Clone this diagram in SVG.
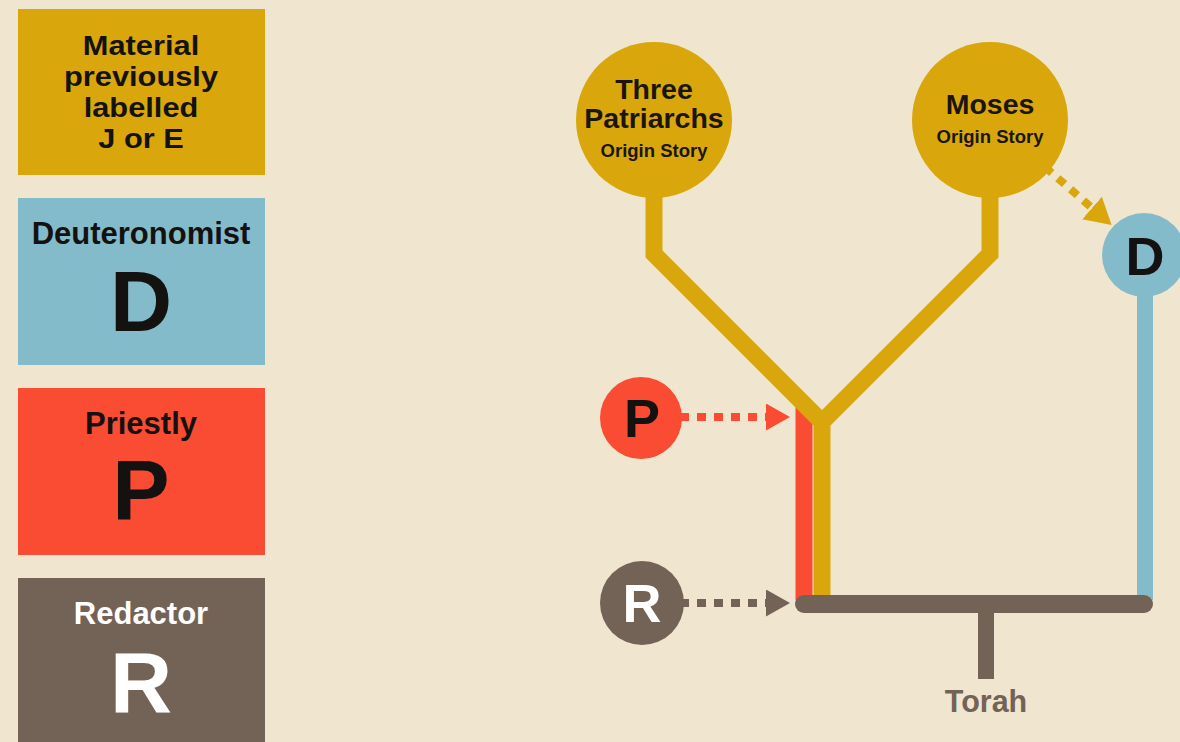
<svg xmlns="http://www.w3.org/2000/svg" width="1180" height="742" viewBox="0 0 1180 742">
  <defs>
    <style>
      text { font-family: "Liberation Sans", Arial, Helvetica, sans-serif; font-weight: bold; text-anchor: middle; }
      .lbl { font-size: 31px; fill: #141210; }
      .lbl4 { font-size: 27.5px; fill: #141210; }
      .big { font-size: 86px; fill: #141210; }
      .wht { fill: #ffffff; }
      .ttl { font-size: 28.5px; fill: #1a1510; }
      .sub { font-size: 18.5px; fill: #1a1510; }
      .ltr { font-size: 54px; }
      .gold { fill: #D9A70B; }
      .blue { fill: #84BBCB; }
      .red { fill: #FA4C33; }
      .brown { fill: #736357; }
      .dots { fill: none; stroke-width: 8; stroke-dasharray: 9 8; }
    </style>
    <marker id="ahRed" markerUnits="userSpaceOnUse" markerWidth="26" markerHeight="30" refX="0" refY="13.5" orient="auto">
      <path d="M0,0 L24,13.5 L0,27 z" fill="#FA4C33"/>
    </marker>
    <marker id="ahBrown" markerUnits="userSpaceOnUse" markerWidth="26" markerHeight="30" refX="0" refY="13.5" orient="auto">
      <path d="M0,0 L24,13.5 L0,27 z" fill="#736357"/>
    </marker>
    <marker id="ahGold" markerUnits="userSpaceOnUse" markerWidth="28" markerHeight="32" refX="0" refY="15" orient="auto">
      <path d="M0,0 L26,15 L0,30 z" fill="#D9A70B"/>
    </marker>
  </defs>

  <rect x="0" y="0" width="1180" height="742" fill="#F0E6CF"/>

  <!-- Legend -->
  <g id="legend-je">
    <rect x="18" y="9" width="247" height="166" class="gold"/>
    <g transform="translate(141,0) scale(1.12,1)">
      <text class="lbl4" x="0" y="55">Material</text>
      <text class="lbl4" x="0" y="86">previously</text>
      <text class="lbl4" x="0" y="117">labelled</text>
      <text class="lbl4" x="0" y="148">J or E</text>
    </g>
  </g>
  <g id="legend-d">
    <rect x="18" y="198" width="247" height="167" class="blue"/>
    <text class="lbl" x="141" y="244">Deuteronomist</text>
    <text class="big" x="141" y="331">D</text>
  </g>
  <g id="legend-p">
    <rect x="18" y="388" width="247" height="167" class="red"/>
    <text class="lbl" x="141" y="434">Priestly</text>
    <text class="big" x="141" y="520">P</text>
  </g>
  <g id="legend-r">
    <rect x="18" y="578" width="247" height="170" class="brown"/>
    <text class="lbl wht" x="141" y="624">Redactor</text>
    <text class="big wht" x="141" y="712">R</text>
  </g>

  <!-- Connectors -->
  <g id="connectors">
    <line x1="804" y1="404" x2="804" y2="600" stroke="#FA4C33" stroke-width="17"/>
    <path d="M654,190 L654,254 L822,422 L990,254 L990,190 M822,418 L822,600" fill="none" stroke="#D9A70B" stroke-width="17" stroke-linejoin="miter"/>
    <line x1="1145" y1="290" x2="1145" y2="600" stroke="#84BBCB" stroke-width="16"/>
    <line x1="804" y1="604" x2="1144" y2="604" stroke="#736357" stroke-width="18" stroke-linecap="round"/>
    <line x1="986" y1="604" x2="986" y2="679" stroke="#736357" stroke-width="16"/>
    <line class="dots" x1="680" y1="417" x2="766" y2="417" stroke="#FA4C33" marker-end="url(#ahRed)"/>
    <line class="dots" x1="680" y1="603" x2="766" y2="603" stroke="#736357" marker-end="url(#ahBrown)"/>
    <line class="dots" x1="1045" y1="167" x2="1092" y2="208" stroke="#D9A70B" stroke-width="9" marker-end="url(#ahGold)"/>
  </g>

  <!-- Nodes -->
  <g id="node-patriarchs">
    <circle cx="654" cy="120" r="78" class="gold"/>
    <text class="ttl" x="654" y="99">Three</text>
    <text class="ttl" x="654" y="128">Patriarchs</text>
    <text class="sub" x="654" y="157">Origin Story</text>
  </g>
  <g id="node-moses">
    <circle cx="990" cy="120" r="78" class="gold"/>
    <text class="ttl" x="990" y="114">Moses</text>
    <text class="sub" x="990" y="143">Origin Story</text>
  </g>
  <g id="node-d">
    <circle cx="1144" cy="255" r="42" class="blue"/>
    <text class="ltr" x="1145" y="275" fill="#141210">D</text>
  </g>
  <g id="node-p">
    <circle cx="641" cy="418" r="41" class="red"/>
    <text class="ltr" x="642" y="437" fill="#141210">P</text>
  </g>
  <g id="node-r">
    <circle cx="642" cy="603" r="42" class="brown"/>
    <text class="ltr" x="642" y="622" fill="#ffffff">R</text>
  </g>
  <g id="node-torah">
    <text x="986" y="712" font-size="30.5" fill="#736357">Torah</text>
  </g>
</svg>
